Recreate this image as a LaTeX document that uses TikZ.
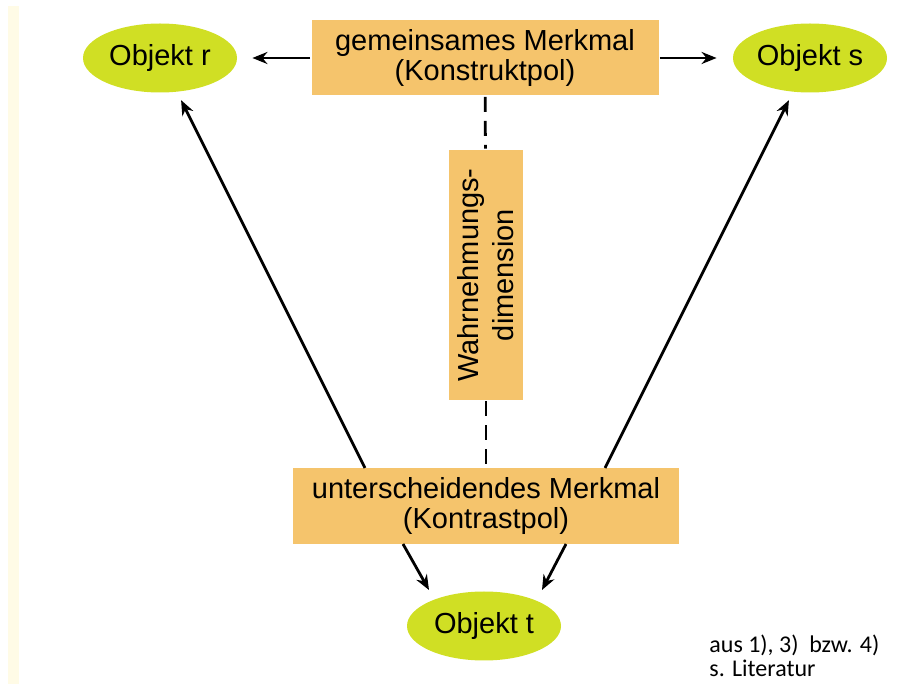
\documentclass[tikz,border=0pt]{standalone}
\usepackage{fontspec}
\setmainfont{Liberation Sans}
\newfontfamily\notefont{Carlito}
\usetikzlibrary{arrows.meta,shapes.geometric}

\definecolor{objgreen}{RGB}{208,223,36}
\definecolor{polorange}{RGB}{245,196,108}
\definecolor{stripyellow}{RGB}{255,251,230}

\begin{document}
\begin{tikzpicture}[x=1pt,y=-1pt,->,>={Stealth[length=15pt,width=12pt]},line width=2.8pt]
\tikzstyle{every node}=[font=\fontsize{29}{30}\selectfont,text=black]
\tikzstyle{objekt}=[ellipse,fill=objgreen,minimum width=154pt,minimum height=69pt,inner sep=0pt]
\tikzstyle{pol}=[rectangle,fill=polorange,align=center,inner sep=0pt]
\tikzstyle{dimline}=[-,dash pattern=on 15pt off 9pt]
\useasboundingbox (0,0) rectangle (898,684);
\fill[-,stripyellow] (8,6) rectangle (19,684);
\node[objekt] (r) at (160,58) {Objekt r};
\node[pol,minimum width=347pt,minimum height=75pt] (gem) at (485,58) {gemeinsames Merkmal\\(Konstruktpol)};
\node[objekt] (s) at (810,58) {Objekt s};
\node[pol,rotate=90,minimum width=250pt,minimum height=74pt,font=\fontsize{29}{35}\selectfont] (wahr) at (486,275) {Wahrnehmungs-\\dimension};
\node[pol,minimum width=386pt,minimum height=76pt] (unt) at (486,506) {unterscheidendes Merkmal\\(Kontrastpol)};
\node[objekt] (t) at (484,626) {Objekt t};
\node[anchor=north west,align=left,inner sep=0pt,font=\notefont\fontsize{24}{24}\selectfont] (quelle) at (708,634) {aus 1), 3)\ \ bzw. 4)\\s. Literatur};
\coordinate (uL) at (365,468);
\coordinate (uR) at (605,468);
\coordinate (uBL) at (403,544);
\coordinate (uBR) at (566,544);
\coordinate (tL) at (429,590);
\coordinate (tR) at (542,590);
\path (gem) edge[shorten >=14pt] (r)
      (gem) edge[shorten >=15pt] (s)
      (uL) edge[shorten >=8pt] (r)
      (uR) edge[shorten >=8pt] (s)
      (uBL) edge (tL)
      (uBR) edge (tR);
\draw[dimline] (gem) -- (wahr);
\draw[dimline] (wahr) -- (unt);
\end{tikzpicture}
\end{document}
